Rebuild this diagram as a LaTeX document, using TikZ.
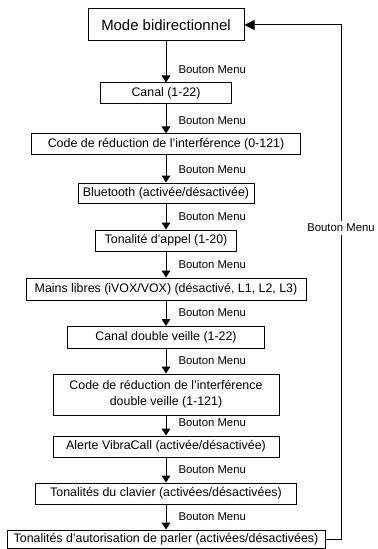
\documentclass[tikz,border=0pt]{standalone}
\usepackage{fontspec}
\setmainfont{Liberation Sans}
\usepackage{tikz}
\usetikzlibrary{calc}
\usetikzlibrary{arrows.meta}
\tikzset{every picture/.style={line width=0.75pt}}
\tikzset{
  menubox/.style={draw, inner sep=0pt, align=center, font=\fontsize{9.3}{12}\selectfont},
  lbl/.style={anchor=west, inner sep=0.75pt, font=\fontsize{8.5}{10}\selectfont},
  arr/.style={-{Triangle[length=5.25pt,width=6.5pt]}},
  back/.style={-{Triangle[length=7.5pt,width=7.5pt]}}
}

\begin{document}
\begin{tikzpicture}[x=0.75pt,y=0.75pt,yscale=-1,xscale=1]
\path (0,0) rectangle (376,549); %set diagram size

%Shape: Rectangle [id:mode]
\node [menubox, minimum width=117pt, minimum height=24pt, font=\fontsize{11.2}{13}\selectfont] (mode) at (166,25) {Mode bidirectionnel};
%Shape: Rectangle [id:canal]
\node [menubox, minimum width=98.25pt, minimum height=15.75pt] (canal) at (166,93.5) {Canal (1-22)};
%Shape: Rectangle [id:code]
\node [menubox, minimum width=201.75pt, minimum height=15.75pt] (code) at (166,144.5) {Code de réduction de l’interférence (0-121)};
%Shape: Rectangle [id:bluetooth]
\node [menubox, minimum width=132pt, minimum height=15pt] (bluetooth) at (166,193) {Bluetooth (activée/désactivée)};
%Shape: Rectangle [id:tonalite]
\node [menubox, minimum width=105.75pt, minimum height=15.75pt] (tonalite) at (166,240.5) {Tonalité d’appel (1-20)};
%Shape: Rectangle [id:mains]
\node [menubox, minimum width=210pt, minimum height=16.5pt] (mains) at (166,289) {Mains libres (iVOX/VOX) (désactivé, L1, L2, L3)};
%Shape: Rectangle [id:canaldv]
\node [menubox, minimum width=147.75pt, minimum height=16.5pt] (canaldv) at (166,337.5) {Canal double veille (1-22)};
%Shape: Rectangle [id:codedv]
\node [menubox, minimum width=169.5pt, minimum height=30.75pt] (codedv) at (166,394.5) {Code de réduction de l’interférence\\double veille (1-121)};
%Shape: Rectangle [id:alerte]
\node [menubox, minimum width=169.5pt, minimum height=15.75pt] (alerte) at (166,446.5) {Alerte VibraCall (activée/désactivée)};
%Shape: Rectangle [id:clavier]
\node [menubox, minimum width=195.75pt, minimum height=15.75pt] (clavier) at (166,493.5) {Tonalités du clavier (activées/désactivées)};
%Shape: Rectangle [id:autorisation]
\node [menubox, minimum width=238.5pt, minimum height=13.5pt] (autorisation) at (166,539) {Tonalités d’autorisation de parler (activées/désactivées)};

%Straight Lines
\draw [arr] (mode) -- (canal);
\draw [arr] (canal) -- (code);
\draw [arr] (code) -- (bluetooth);
\draw [arr] (bluetooth) -- (tonalite);
\draw [arr] (tonalite) -- (mains);
\draw [arr] (mains) -- (canaldv);
\draw [arr] (canaldv) -- (codedv);
\draw [arr] (codedv) -- (alerte);
\draw [arr] (alerte) -- (clavier);
\draw [arr] (clavier) -- (autorisation);

% Text Node
\node [lbl] (l1) at ($(canal.north)+(11,-13)$) {Bouton Menu};
\node [lbl] (l2) at ($(code.north)+(11,-13)$) {Bouton Menu};
\node [lbl] (l3) at ($(bluetooth.north)+(11,-13)$) {Bouton Menu};
\node [lbl] (l4) at ($(tonalite.north)+(11,-13)$) {Bouton Menu};
\node [lbl] (l5) at ($(mains.north)+(11,-13)$) {Bouton Menu};
\node [lbl] (l6) at ($(canaldv.north)+(11,-13)$) {Bouton Menu};
\node [lbl] (l7) at ($(codedv.north)+(11,-13)$) {Bouton Menu};
\node [lbl] (l8) at ($(alerte.north)+(11,-13)$) {Bouton Menu};
\node [lbl] (l9) at ($(clavier.north)+(11,-13)$) {Bouton Menu};
\node [lbl] (l10) at ($(autorisation.north)+(11,-13)$) {Bouton Menu};

%Straight Lines [return]
\coordinate (ret) at (341,0);
\draw [back] (autorisation.east) -- (autorisation.east -| ret) -- (mode.east -| ret) -- (mode.east);
% Text Node
\node [lbl, anchor=center, fill=white, inner sep=2pt] (lret) at (341,228) {Bouton Menu};

\end{tikzpicture}
\end{document}
